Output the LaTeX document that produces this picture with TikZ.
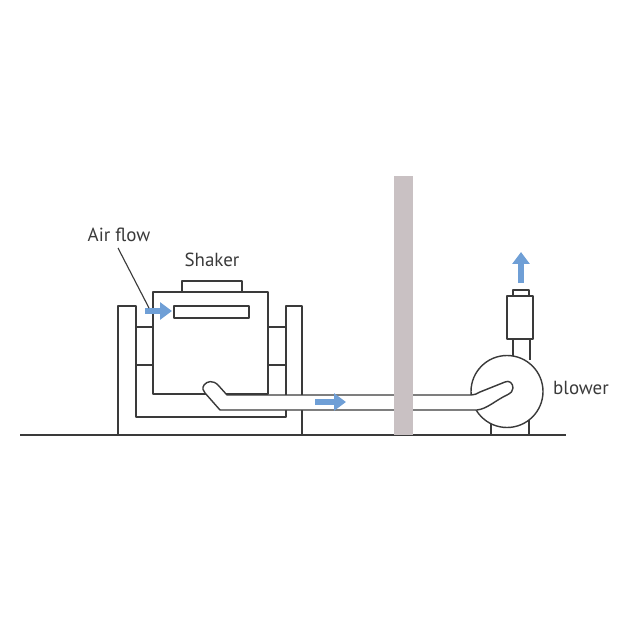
\documentclass[tikz,border=0pt]{standalone}
\usepackage{fontspec}
\setmainfont{PT Sans}
\usepackage{xcolor}
\usetikzlibrary{arrows.meta,positioning,calc}
\definecolor{linegray}{HTML}{3A3A3A}
\definecolor{wallgray}{HTML}{C9C1C3}
\definecolor{flowblue}{HTML}{6F9FD6}
\tikzset{
  part/.style={draw=linegray, line width=1pt, line join=round},
  label/.style={font=\fontsize{13.5}{15}\selectfont, text=linegray, inner sep=0pt},
  flow/.style={draw=flowblue, line width=4.5pt, -{Triangle[length=8.5pt,width=12pt]}}
}
\begin{document}
\begin{tikzpicture}[x=0.25mm,y=-0.25mm]
  \useasboundingbox (0,0) rectangle (640,640);
  % frame and floor
  \draw[part] (118,435) -- (118,306) -- (136,306) -- (136,417) -- (286,417)
    -- (286,306) -- (302,306) -- (302,435);
  \draw[part] (20,435) -- (566,435);
  % shaker
  \draw[part, fill=white] (182,292) rectangle (242,281);
  \draw[part, fill=white] (153,292) rectangle (268,394);
  \draw[part] (174,306) rectangle (249,318);
  \draw[part] (136,327) -- (153,327) (136,365) -- (153,365);
  \draw[part] (268,327) -- (286,327) (268,365) -- (286,365);
  % blower
  \draw[part] (491,420) -- (491,435) (529,420) -- (529,435);
  \draw[part] (513,339) -- (513,360) (530,339) -- (530,360);
  \draw[part] (507,296) rectangle (533,339);
  \draw[part] (513,296) -- (513,290) -- (529,290) -- (529,296);
  \draw[part, fill=white] (507,391.5) circle (36);
  % duct
  \draw[part, fill=white] (471,395) -- (227,395) -- (218,385)
    .. controls (213,380) and (207,381) .. (204,385)
    .. controls (202,388) and (203,391) .. (205,393) -- (220,410) -- (477,410)
    .. controls (487,409) and (496,400) .. (507,395)
    .. controls (511,393) and (513,391) .. (513,388)
    .. controls (513,383) and (509,380) .. (505,382) -- (480,392)
    .. controls (477,394) and (474,395) .. (471,395);
  % wall
  \fill[wallgray] (394,176) rectangle (413,435);
  % air flow arrows
  \coordinate (inletA) at (145,311);
  \coordinate (inletB) at (172,311);
  \coordinate (ductA) at (315,402);
  \coordinate (ductB) at (346,402);
  \coordinate (ventA) at (521,283);
  \coordinate (ventB) at (521,252);
  \draw[flow] (inletA) -- (inletB);
  \draw[flow] (ductA) -- (ductB);
  \draw[flow] (ventA) -- (ventB);
  % labels
  \node[label] (airflow) at (119,235) {Air flow};
  \node[label] (shaker) at (212,260) {Shaker};
  \node[label] (blower) at (581,388) {blower};
  \coordinate (leader) at (118,248);
  \coordinate (inlet) at (149,308);
  \draw[linegray, line width=0.8pt] (leader) -- (inlet);
\end{tikzpicture}
\end{document}
